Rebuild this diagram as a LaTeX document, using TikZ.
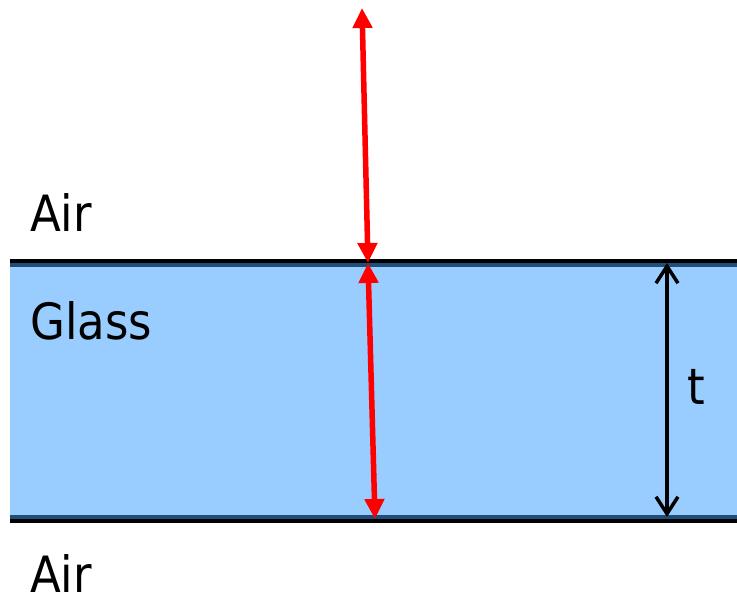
\documentclass[tikz,border=0pt]{standalone}
\usepackage{fontspec}
\setmainfont{DejaVu Sans Condensed}
\usetikzlibrary{arrows.meta}
\definecolor{glassfill}{HTML}{99CCFF}
\definecolor{edgeblue}{HTML}{1F4E79}
\definecolor{rayred}{HTML}{FF0000}
\begin{document}
\begin{tikzpicture}[x=1pt,y=1pt,
  lbl/.style={inner sep=0pt, font=\fontsize{50}{60}\selectfont, anchor=base west},
  ray/.style={draw=rayred, line width=5.5pt, {Triangle[width=19pt,length=20pt]}-{Triangle[width=19pt,length=20pt]}},
  dim/.style={draw=black, line width=3.5pt, {Straight Barb[length=17pt,width=22pt]}-{Straight Barb[length=17pt,width=22pt]}},
  blackedge/.style={draw=black, line width=4pt},
  blueedge/.style={draw=edgeblue, line width=4pt}]
\useasboundingbox (0,0) rectangle (737,599);
% glass slab
\fill[glassfill] (10,80) rectangle (737,336);
\draw[blueedge] (10,334) -- (737,334);
\draw[blueedge] (10,82) -- (737,82);
\draw[blackedge] (10,338) -- (737,338);
\draw[blackedge] (10,78) -- (737,78);
% ray points
\coordinate (top) at (362,591);
\coordinate (mid) at (368,336);
\coordinate (bot) at (375,80);
\draw[ray] (top) -- (mid);
\draw[ray] (mid) -- (bot);
% thickness
\coordinate (tt) at (667,336);
\coordinate (tb) at (667,82);
\draw[dim] (tt) -- (tb);
% labels
\node[lbl] (airtop) at (30,367) {Air};
\node[lbl] (glass) at (30,259) {Glass};
\node[lbl] (tlabel) at (687,194) {t};
\node[lbl] (airbot) at (30,6) {Air};
\end{tikzpicture}
\end{document}
